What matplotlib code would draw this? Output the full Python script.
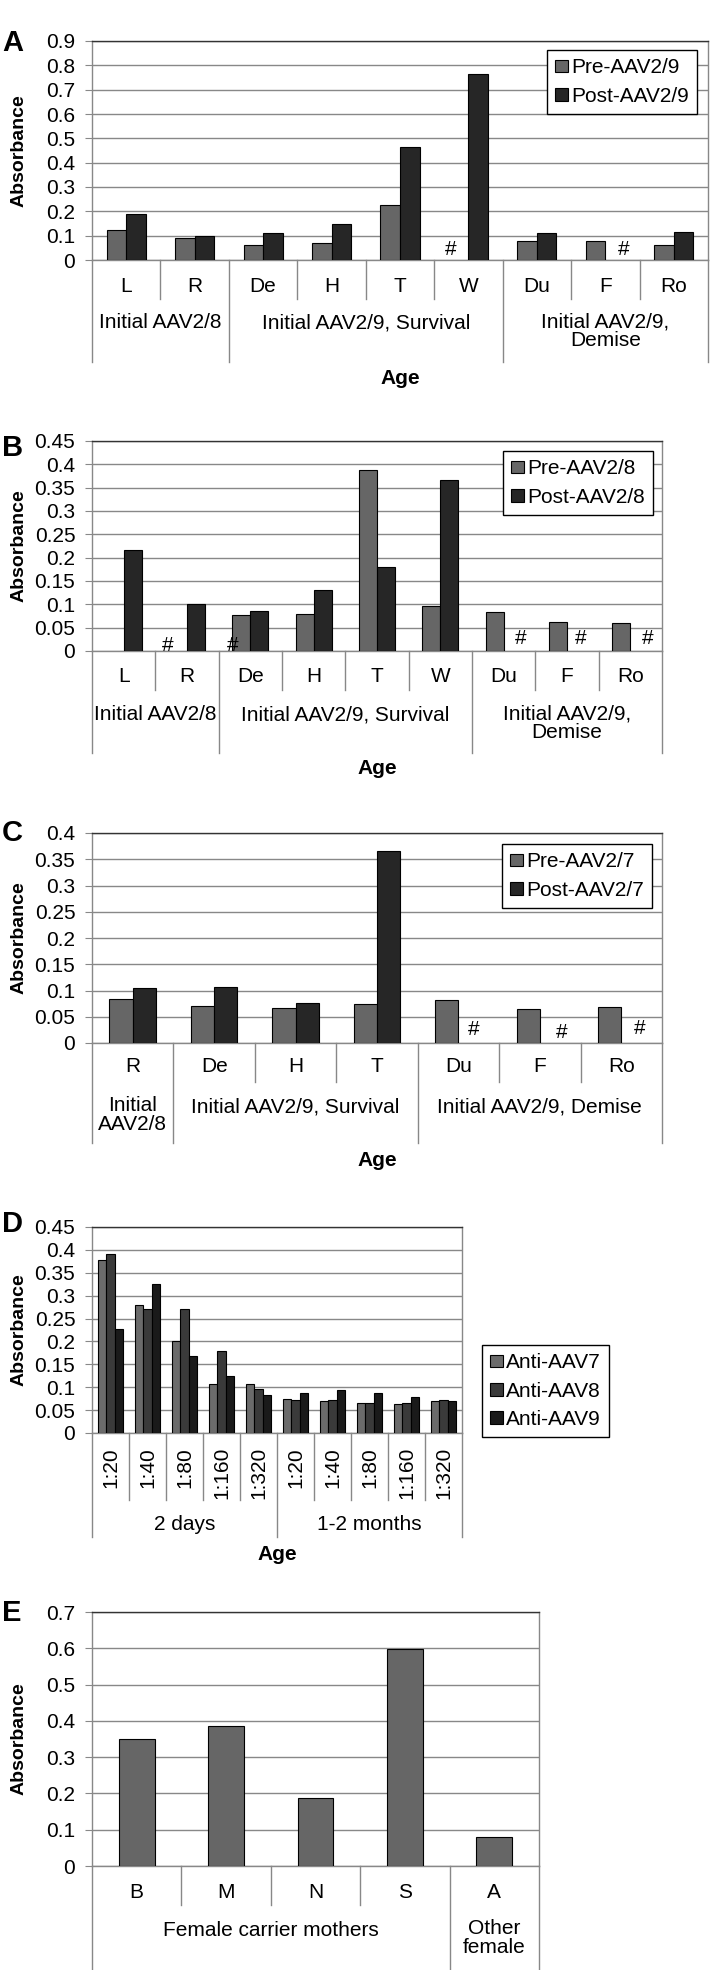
import matplotlib.pyplot as plt
import numpy as np

plt.rcParams['font.family'] = ['Liberation Sans', 'DejaVu Sans']

FIG_W, FIG_H = 710, 1970
FS = 15
GRID = '#888888'
NA = np.nan

# panel A
a_cats = ['L', 'R', 'De', 'H', 'T', 'W', 'Du', 'F', 'Ro']
a_pre = [0.122, 0.089, 0.060, 0.071, 0.224, NA, 0.077, 0.077, 0.060]
a_post = [0.191, 0.098, 0.109, 0.148, 0.466, 0.764, 0.109, NA, 0.115]
a_names = ['Pre-AAV2/9', 'Post-AAV2/9']
a_groups = ['Initial AAV2/8', 'Initial AAV2/9, Survival', 'Initial AAV2/9,\nDemise']
a_sizes = [2, 4, 3]
a_hash = [(5, 0), (7, 1)]

# panel B
b_cats = ['L', 'R', 'De', 'H', 'T', 'W', 'Du', 'F', 'Ro']
b_pre = [NA, NA, 0.077, 0.080, 0.388, 0.097, 0.084, 0.063, 0.060]
b_post = [0.216, 0.100, 0.086, 0.131, 0.180, 0.366, NA, NA, NA]
b_names = ['Pre-AAV2/8', 'Post-AAV2/8']
b_groups = a_groups
b_sizes = [2, 4, 3]
b_hash = [(1, 0), (2, 0), (6, 1), (7, 1), (8, 1)]

# panel C
c_cats = ['R', 'De', 'H', 'T', 'Du', 'F', 'Ro']
c_pre = [0.084, 0.071, 0.066, 0.074, 0.082, 0.064, 0.069]
c_post = [0.105, 0.107, 0.077, 0.366, NA, NA, NA]
c_names = ['Pre-AAV2/7', 'Post-AAV2/7']
c_groups = ['Initial\nAAV2/8', 'Initial AAV2/9, Survival', 'Initial AAV2/9, Demise']
c_sizes = [1, 3, 3]
c_hash = [(4, 1), (5, 1), (6, 1)]

# panel D
d_cats = ['1:20', '1:40', '1:80', '1:160', '1:320'] * 2
d_aav7 = [0.377, 0.279, 0.200, 0.106, 0.106, 0.075, 0.069, 0.066, 0.063, 0.069]
d_aav8 = [0.390, 0.270, 0.270, 0.180, 0.097, 0.071, 0.071, 0.066, 0.066, 0.072]
d_aav9 = [0.227, 0.326, 0.168, 0.125, 0.084, 0.087, 0.095, 0.087, 0.078, 0.069]
d_names = ['Anti-AAV7', 'Anti-AAV8', 'Anti-AAV9']
d_groups = ['2 days', '1-2 months']
d_sizes = [5, 5]

# panel E
e_cats = ['B', 'M', 'N', 'S', 'A']
e_vals = [0.350, 0.387, 0.187, 0.599, 0.081]
e_groups = ['Female carrier mothers', 'Other\nfemale']
e_sizes = [4, 1]


def add_axes(fig, left, top, right, zero):
    ax = fig.add_axes([left / FIG_W, 1 - zero / FIG_H,
                       (right - left) / FIG_W, (zero - top) / FIG_H])
    return ax, zero - top, right - left


def below(ax, text, x, off, **kw):
    kw.setdefault('va', 'center')
    ax.annotate(text, xy=(x, 0), xycoords=('data', 'axes fraction'),
                xytext=(0, -off), textcoords='offset pixels', ha='center',
                fontsize=FS, annotation_clip=False, **kw)


def vline(ax, x, off, h):
    ax.plot([x, x], [0, -off / h], transform=ax.get_xaxis_transform(),
            color=GRID, lw=1.0, clip_on=False)


def panel(ax, h, w_px, cats, series, colors, names, ymax, step, groups, sizes,
          offs, rotate=False, hashes=(), hash_dx=(), hash_dy=()):
    n = len(cats)
    ns = len(series)
    bw = 1 / (ns + 1.5)
    xs = np.arange(n)
    for k, vals in enumerate(series):
        vals = np.array(vals, dtype=float)
        ok = ~np.isnan(vals)
        off = (k - (ns - 1) / 2) * bw
        ax.bar(xs[ok] + off, vals[ok], bw, color=colors[k], edgecolor='black',
               linewidth=0.8, label=names[k] if names else None, zorder=3)
    # '#' = no sample
    for (ci, si), dx, dy in zip(hashes, hash_dx, hash_dy):
        x = ci + (si - (ns - 1) / 2) * bw
        ax.annotate('#', xy=(x, 0), xytext=(dx, dy), textcoords='offset pixels',
                    ha='center', va='bottom', fontsize=FS, zorder=4)

    ax.set_xlim(-0.5, n - 0.5)
    ax.set_ylim(0, ymax)
    ticks = np.round(np.arange(0, ymax + step / 2, step), 3)
    ax.set_yticks(ticks)
    ax.set_yticklabels([f'{t:g}' for t in ticks])
    ax.set_xticks([])
    ax.tick_params(axis='y', length=5, color=GRID, labelsize=FS, pad=7)
    ax.yaxis.grid(True, color=GRID, lw=1.0)
    ax.set_axisbelow(True)
    for s in ['left', 'right', 'bottom']:
        ax.spines[s].set_color(GRID)
        ax.spines[s].set_linewidth(1.0)
    ax.spines['top'].set_color('#333333')
    ax.spines['top'].set_linewidth(1.0)

    ax.set_ylabel('Absorbance', fontsize=14, fontweight='bold')
    ax.yaxis.set_label_coords(-(92 - 28) / w_px, 0.5)

    cat_off, short, grp_off, long_off, age_off = offs
    for i, c in enumerate(cats):
        if rotate:
            below(ax, c, i, cat_off, rotation=90, va='top')
        else:
            below(ax, c, i, cat_off)
    bounds = np.concatenate([[0], np.cumsum(sizes)]) - 0.5
    for b in np.arange(n + 1) - 0.5:
        vline(ax, b, long_off if b in bounds else short, h)
    for g, a, b in zip(groups, bounds[:-1], bounds[1:]):
        if '\n' in g:
            below(ax, g, (a + b) / 2, grp_off - 11, va='top', linespacing=1.0)
        else:
            below(ax, g, (a + b) / 2, grp_off)
    if age_off:
        ax.annotate('Age', xy=(0.5, 0), xycoords='axes fraction', xytext=(0, -age_off),
                    textcoords='offset pixels', ha='center', va='center',
                    fontsize=FS, fontweight='bold', annotation_clip=False)


def legend(ax, anchor, loc='upper right'):
    lg = ax.legend(loc=loc, bbox_to_anchor=anchor, borderaxespad=0, fontsize=FS,
                   fancybox=False, edgecolor='black', framealpha=1,
                   handlelength=0.6, handleheight=0.55, handletextpad=0.15,
                   labelspacing=0.45, borderpad=0.4)
    lg.get_frame().set_linewidth(1.0)


def main():
    fig = plt.figure(figsize=(FIG_W / 100, FIG_H / 100), dpi=100)
    pre_c, post_c = '#666666', '#262626'

    ax, h, w = add_axes(fig, 92, 41, 708, 260)
    panel(ax, h, w, a_cats, [a_pre, a_post], [pre_c, post_c], a_names, 0.9, 0.1,
          a_groups, a_sizes, (26, 39, 63, 102, 118),
          hashes=a_hash, hash_dx=[-8, 9], hash_dy=[1, 1])
    legend(ax, ((697 - 92) / w, 1 - 9 / h))

    ax, h, w = add_axes(fig, 92, 441, 662, 651)
    panel(ax, h, w, b_cats, [b_pre, b_post], [pre_c, post_c], b_names, 0.45, 0.05,
          b_groups, b_sizes, (26, 39, 64, 102, 117),
          hashes=b_hash, hash_dx=[-10, -9, 8, 5, 8], hash_dy=[-4, -4, 3, 3, 3])
    legend(ax, ((653 - 92) / w, 1 - 10 / h))

    ax, h, w = add_axes(fig, 92, 833, 662, 1043)
    panel(ax, h, w, c_cats, [c_pre, c_post], [pre_c, post_c], c_names, 0.4, 0.05,
          c_groups, c_sizes, (24, 39, 64, 100, 117),
          hashes=c_hash, hash_dx=[4, 10, 7], hash_dy=[4, 1, 5])
    legend(ax, ((652 - 92) / w, 1 - 11 / h))

    ax, h, w = add_axes(fig, 92, 1227, 462, 1433)
    panel(ax, h, w, d_cats, [d_aav7, d_aav8, d_aav9], ['#6b6b6b', '#3a3a3a', '#1a1a1a'],
          d_names, 0.45, 0.05, d_groups, d_sizes, (14, 67, 92, 104, 122), rotate=True)
    legend(ax, ((482 - 92) / w, (1433 - 1345) / h), loc='upper left')

    ax, h, w = add_axes(fig, 92, 1612, 539, 1866)
    panel(ax, h, w, e_cats, [e_vals], [pre_c], None, 0.7, 0.1,
          e_groups, e_sizes, (26, 39, 64, 106, 0))

    for letter, y in zip('ABCDE', [43, 448, 833, 1224, 1613]):
        fig.text(2 / FIG_W, 1 - y / FIG_H, letter, fontsize=21, fontweight='bold',
                 ha='left', va='center')

    fig.savefig('out.png', dpi=100)


if __name__ == '__main__':
    main()
